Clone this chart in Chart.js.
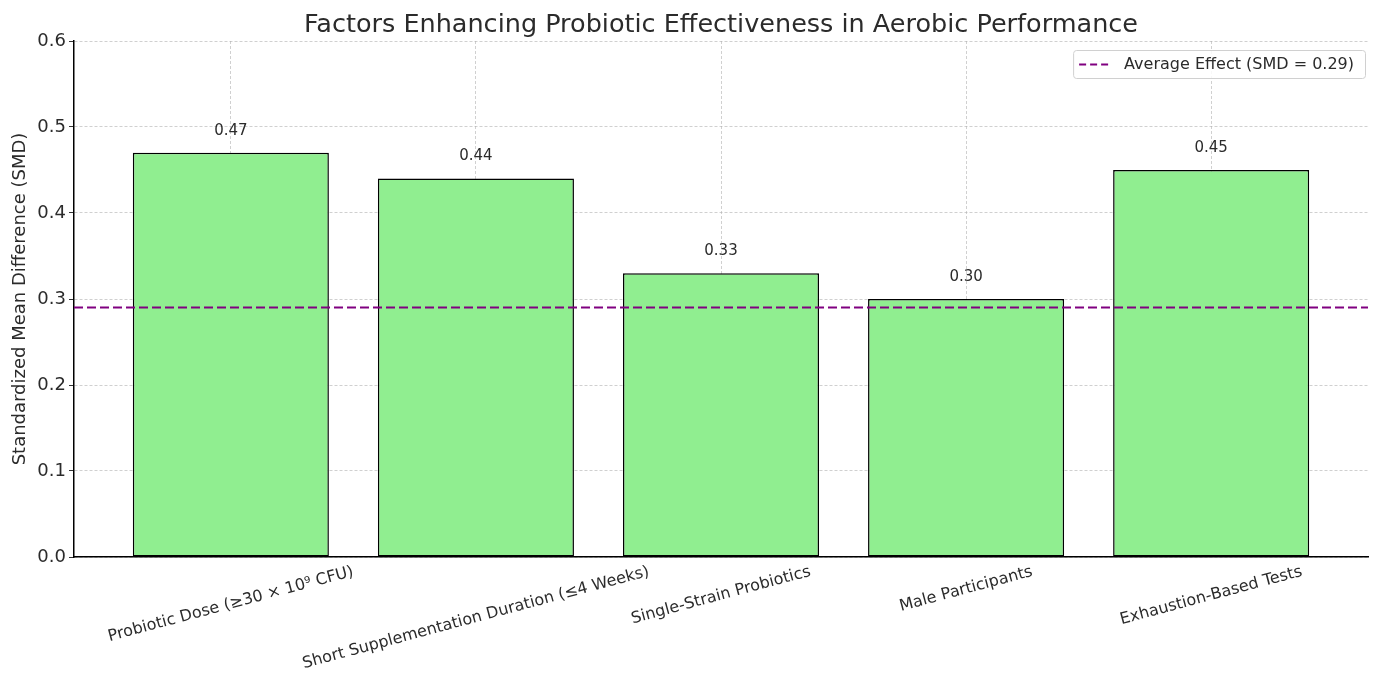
<!DOCTYPE html>
<html>
<head>
<meta charset="utf-8">
<script src="https://cdn.jsdelivr.net/npm/chart.js@4.4.1/dist/chart.umd.min.js"></script>
<style>
html,body{margin:0;padding:0;background:#fff;}
#wrap{width:1379px;height:684px;}
</style>
</head>
<body>
<div id="wrap"><canvas id="c" width="1379" height="684"></canvas></div>
<script>
const chartTitle = 'Factors Enhancing Probiotic Effectiveness in Aerobic Performance';
const yAxisTitle = 'Standardized Mean Difference (SMD)';
const categories = [
  'Probiotic Dose (\u226530 \u00d7 10\u2079 CFU)',
  'Short Supplementation Duration (\u22644 Weeks)',
  'Single-Strain Probiotics',
  'Male Participants',
  'Exhaustion-Based Tests'
];
const smdValues = [0.47, 0.44, 0.33, 0.30, 0.45];
const averageSMD = 0.29;
const averageLabel = 'Average Effect (SMD = 0.29)';
const yTicks = [0, 0.1, 0.2, 0.3, 0.4, 0.5, 0.6];
const X_MIN = -0.64, X_MAX = 4.64;

const FONT = "'DejaVu Sans', sans-serif";
const TEXT = '#2b2b2b';
const GRID = 'rgba(176,176,176,0.6)';

const barData = smdValues.map((v, i) => ({x: i, y: v}));
const avgData = [{x: X_MIN, y: averageSMD}, {x: X_MAX, y: averageSMD}];

const overlayPlugin = {
  id: 'overlay',
  afterDraw(chart) {
    const ctx = chart.ctx;
    const xs = chart.scales.x, ys = chart.scales.y, area = chart.chartArea;
    ctx.save();
    // title
    ctx.fillStyle = TEXT;
    ctx.font = '25.5px ' + FONT;
    ctx.textAlign = 'center';
    ctx.textBaseline = 'alphabetic';
    ctx.fillText(chartTitle, (area.left + area.right) / 2, 32);
    // value labels
    ctx.font = '15px ' + FONT;
    smdValues.forEach((v, i) => {
      ctx.fillText(v.toFixed(2), xs.getPixelForValue(i), ys.getPixelForValue(v + 0.02) - 1);
    });
    // rotated x labels
    const ang = 15 * Math.PI / 180;
    const fs = 16;
    ctx.font = fs + 'px ' + FONT;
    categories.forEach((lab, i) => {
      const L = ctx.measureText(lab).width;
      const bh = L * Math.sin(ang) + fs * 1.1 * Math.cos(ang);
      const cx = xs.getPixelForValue(i);
      const cy = area.bottom + 6 + bh / 2;
      ctx.save();
      ctx.translate(cx, cy);
      ctx.rotate(-ang);
      ctx.textAlign = 'center';
      ctx.textBaseline = 'middle';
      ctx.fillText(lab, 0, 0);
      ctx.restore();
    });
    // legend
    ctx.font = '16px ' + FONT;
    const tw = ctx.measureText(averageLabel).width;
    const bw = tw + 62, bh2 = 28;
    const bx = area.right - 3 - bw, by = area.top + 9;
    ctx.fillStyle = 'rgba(255,255,255,0.85)';
    ctx.strokeStyle = '#d0d0d0';
    ctx.lineWidth = 1;
    ctx.beginPath();
    ctx.roundRect(bx + 0.5, by + 0.5, bw, bh2, 3);
    ctx.fill();
    ctx.stroke();
    ctx.strokeStyle = '#800080';
    ctx.lineWidth = 2;
    ctx.setLineDash([7, 4]);
    ctx.beginPath();
    ctx.moveTo(bx + 6, by + bh2 / 2 + 0.5);
    ctx.lineTo(bx + 36, by + bh2 / 2 + 0.5);
    ctx.stroke();
    ctx.setLineDash([]);
    ctx.fillStyle = TEXT;
    ctx.textAlign = 'left';
    ctx.textBaseline = 'middle';
    ctx.fillText(averageLabel, bx + 51, by + bh2 / 2 + 1);
    ctx.restore();
  }
};

new Chart(document.getElementById('c'), {
  data: {
    datasets: [
      {
        type: 'line',
        label: averageLabel,
        data: avgData,
        borderColor: '#800080',
        borderWidth: 2,
        borderDash: [9, 4],
        pointRadius: 0,
        fill: false,
        order: 0
      },
      {
        type: 'bar',
        label: 'SMD',
        data: barData,
        backgroundColor: '#90EE90',
        borderColor: '#000000',
        borderWidth: 1.5,
        borderSkipped: false,
        categoryPercentage: 1.0,
        barPercentage: 0.8,
        order: 1
      }
    ]
  },
  options: {
    responsive: false,
    animation: false,
    devicePixelRatio: 1,
    layout: {padding: {top: 41, right: 11, left: 0, bottom: 0}},
    plugins: {legend: {display: false}, tooltip: {enabled: false}, title: {display: false}},
    scales: {
      x: {
        type: 'linear',
        min: X_MIN,
        max: X_MAX,
        offset: false,
        z: 1,
        afterBuildTicks(scale) { scale.ticks = categories.map((c, i) => ({value: i})); },
        afterFit(scale) { scale.height = 127; },
        ticks: {display: false},
        grid: {offset: false, color: GRID, lineWidth: 1, drawTicks: false},
        border: {display: true, color: '#000000', width: 1.5, dash: [3, 2]}
      },
      y: {
        type: 'linear',
        min: 0,
        max: 0.6,
        z: 1,
        afterBuildTicks(scale) { scale.ticks = yTicks.map(v => ({value: v})); },
        afterFit(scale) { scale.width = 74; },
        ticks: {padding: 3, color: TEXT, font: {family: FONT, size: 18}, callback: v => Number(v).toFixed(1)},
        grid: {color: GRID, lineWidth: 1, drawTicks: true, tickLength: 5, tickColor: '#333333'},
        border: {display: true, color: '#000000', width: 1.5, dash: [3, 2]},
        title: {display: true, text: yAxisTitle, color: TEXT, font: {family: FONT, size: 18}, padding: {top: 10, bottom: 0}}
      }
    }
  },
  plugins: [overlayPlugin]
});
</script>
</body>
</html>
